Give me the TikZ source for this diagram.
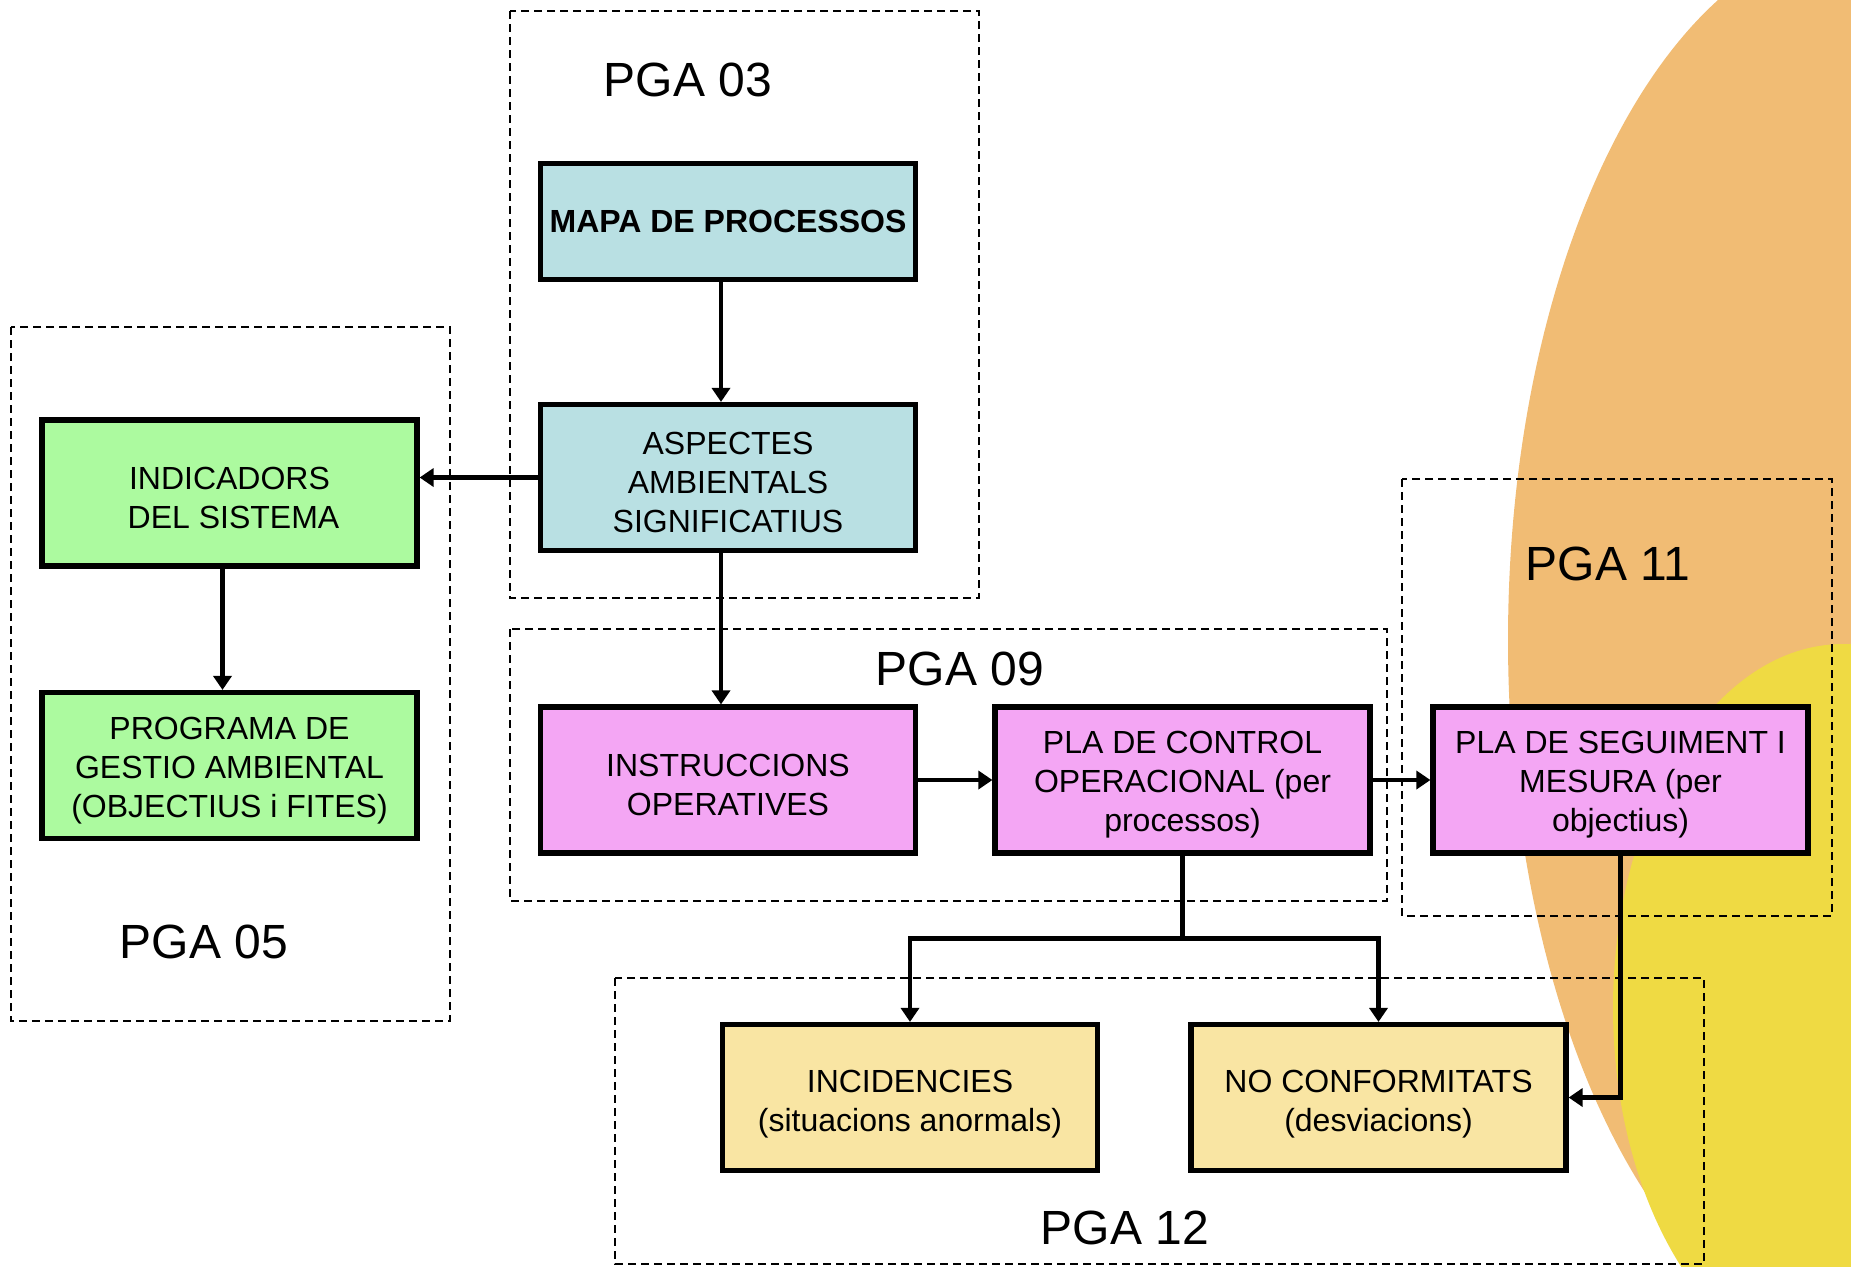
\documentclass[tikz,border=0pt]{standalone}
\usepackage{fontspec}
\setmainfont{Liberation Sans}
\usetikzlibrary{arrows.meta}
\definecolor{orangebg}{HTML}{F1BC74}
\definecolor{yellowbg}{HTML}{EFDA43}
\definecolor{bluebox}{HTML}{B9E0E3}
\definecolor{greenbox}{HTML}{ACFA9F}
\definecolor{pinkbox}{HTML}{F4A6F4}
\definecolor{sandbox}{HTML}{F9E5A3}
\newcommand{\dnstrut}{\rule{0pt}{16pt}}
\tikzset{
  procbox/.style={draw=black, line width=2.6pt, minimum width=187.5pt, minimum height=73pt,
    align=center, inner sep=2pt, font=\fontsize{16}{19.5}\selectfont},
  grouprect/.style={draw=black, line width=1pt, dash pattern=on 4pt off 2.5pt},
  grouplabel/.style={font=\fontsize{24}{28}\selectfont, inner sep=0pt},
  arr/.style={draw=black, line width=2.1pt, -{Triangle[length=7pt,width=9pt]}},
  plainline/.style={draw=black, line width=2.1pt}
}
\begin{document}
\begin{tikzpicture}[x=0.5pt, y=-0.5pt]
\useasboundingbox (0,0) rectangle (1851,1266);
\begin{scope}
\clip (0,0) rectangle (1851,1266);
\fill[orangebg] (1870,640) ellipse [x radius=181pt, y radius=352.5pt];
\fill[yellowbg] (1843,1008) ellipse [x radius=115pt, y radius=182pt];
\end{scope}

% group frames
\draw[grouprect] (510,11) rectangle (979,598);
\draw[grouprect] (11,327) rectangle (450,1021);
\draw[grouprect] (510,629) rectangle (1387,901);
\draw[grouprect] (1402,479) rectangle (1832,916);
\draw[grouprect] (615,978) rectangle (1704,1264);

% group labels
\node[grouplabel] (l03) at (688,80) {PGA 03};
\node[grouplabel] (l05) at (204,942) {PGA 05};
\node[grouplabel] (l09) at (960,669) {PGA 09};
\node[grouplabel] (l11) at (1608,564) {PGA 11};
\node[grouplabel] (l12) at (1125,1228) {PGA 12};

% boxes
\node[procbox, fill=bluebox, minimum height=58pt] (mapa) at (728,221.5) {\textbf{MAPA DE PROCESSOS}};
\node[procbox, fill=bluebox] (asp) at (728,477.5) {\dnstrut ASPECTES\\AMBIENTALS\\SIGNIFICATIUS};
\node[procbox, fill=greenbox] (ind) at (229.5,493) {\dnstrut INDICADORS\\\hspace{4pt}DEL SISTEMA};
\node[procbox, fill=greenbox] (prog) at (229.5,765.5) {\dnstrut PROGRAMA DE\\GESTIO AMBIENTAL\\(OBJECTIUS i FITES)};
\node[procbox, fill=pinkbox] (instr) at (728,780) {\dnstrut INSTRUCCIONS\\OPERATIVES};
\node[procbox, fill=pinkbox] (ctrl) at (1182.5,780) {\dnstrut PLA DE CONTROL\\OPERACIONAL (per\\processos)};
\node[procbox, fill=pinkbox] (seg) at (1620.5,780) {\dnstrut PLA DE SEGUIMENT I\\MESURA (per\\objectius)};
\node[procbox, fill=sandbox] (inc) at (910,1097.5) {\rule{0pt}{18pt}INCIDENCIES\\(situacions anormals)};
\node[procbox, fill=sandbox] (nc) at (1378.5,1097.5) {\rule{0pt}{18pt}NO CONFORMITATS\\(desviacions)};

% connectors
\draw[arr] ([xshift=-3.5pt]mapa.south) -- ([xshift=-3.5pt]asp.north);
\draw[arr] (asp.west) -- (asp.west -| ind.east);
\draw[arr] ([xshift=-3.5pt]ind.south) -- ([xshift=-3.5pt]prog.north);
\draw[arr] ([xshift=-3.5pt]asp.south) -- ([xshift=-3.5pt]instr.north);
\draw[arr] (instr.east) -- (ctrl.west);
\draw[arr] (ctrl.east) -- (seg.west);
\coordinate (split) at (1182.5,938.5);
\draw[plainline] (ctrl.south) -- (split);
\draw[arr] (split) -| (inc.north);
\draw[arr] (split) -| (nc.north);
\draw[arr] (seg.south) |- (nc.east);
\end{tikzpicture}
\end{document}
